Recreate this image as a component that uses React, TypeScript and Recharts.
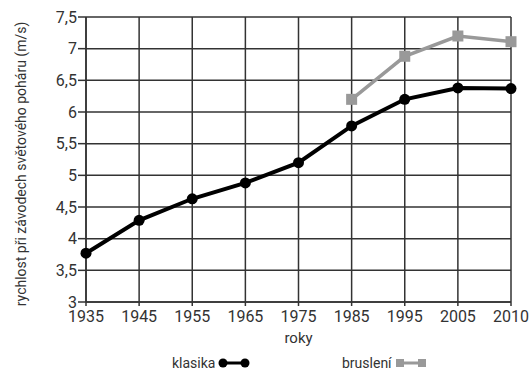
import React from 'react';
import { LineChart, Line, XAxis, YAxis, CartesianGrid, Label } from 'recharts';

const years = ['1935', '1945', '1955', '1965', '1975', '1985', '1995', '2005', '2010'];
const klasika = [3.77, 4.29, 4.63, 4.88, 5.2, 5.78, 6.2, 6.38, 6.37];
const brusleni: (number | null)[] = [null, null, null, null, null, 6.2, 6.88, 7.2, 7.11];
const yTicks = [3, 3.5, 4, 4.5, 5, 5.5, 6, 6.5, 7, 7.5];

const data = years.map((y, i) => ({ year: y, klasika: klasika[i], brusleni: brusleni[i] }));

const FONT = 'Roboto, "Noto Sans", sans-serif';
const TXT = '#333';

const Square = (props: any) => {
  const { cx, cy, value } = props;
  if (cx == null || cy == null || value == null) return null;
  return <rect x={cx - 5.5} y={cy - 5.5} width={11} height={11} fill="#999" />;
};

const YTitle = () => (
  <text
    x={21}
    y={164}
    transform="rotate(-90 21 164)"
    textAnchor="middle"
    dominantBaseline="central"
    fill={TXT}
    fontSize={14}
    fontFamily={FONT}
  >
    rychlost při závodech světového poháru (m/s)
  </text>
);

export default function App() {
  return (
    <div style={{ position: 'absolute', left: 0, top: 0, width: 532, height: 371, background: '#fff' }}>
      <LineChart width={532} height={371} data={data} margin={{ top: 17, right: 21, bottom: 39, left: 26 }}>
        <CartesianGrid stroke="#333" strokeWidth={1.5} />
        <XAxis
          dataKey="year"
          height={30}
          stroke="#333"
          strokeWidth={1.5}
          tickSize={4}
          tickMargin={5}
          interval={0}
          tick={{ fill: TXT, fontSize: 16, fontFamily: FONT }}
        >
          <Label
            value="roky"
            position="bottom"
            offset={0}
            style={{ fill: TXT, fontSize: 15, fontFamily: FONT }}
          />
        </XAxis>
        <YAxis
          type="number"
          domain={[3, 7.5]}
          ticks={yTicks}
          interval={0}
          width={60}
          stroke="#333"
          strokeWidth={1.5}
          tickSize={8}
          tickMargin={1}
          tickFormatter={(v: number) => String(v).replace('.', ',')}
          tick={{ fill: TXT, fontSize: 16, fontFamily: FONT }}
        >
          <Label content={<YTitle />} />
        </YAxis>
        <Line
          dataKey="klasika"
          stroke="#000"
          strokeWidth={4}
          dot={{ r: 5.5, fill: '#000', stroke: '#000', strokeWidth: 0 }}
          isAnimationActive={false}
        />
        <Line
          dataKey="brusleni"
          stroke="#999"
          strokeWidth={3.5}
          dot={<Square />}
          connectNulls={false}
          isAnimationActive={false}
        />
      </LineChart>
      <div
        style={{
          position: 'absolute',
          left: 172,
          top: 354,
          display: 'flex',
          alignItems: 'center',
          fontFamily: FONT,
          fontSize: 14,
          color: TXT,
          lineHeight: '18px',
        }}
      >
        <span>klasika</span>
        <svg width={32} height={14} style={{ marginLeft: 3 }}>
          <line x1={5} y1={7} x2={27} y2={7} stroke="#000" strokeWidth={3} />
          <circle cx={5} cy={7} r={4.5} fill="#000" />
          <circle cx={27} cy={7} r={4.5} fill="#000" />
        </svg>
      </div>
      <div
        style={{
          position: 'absolute',
          left: 342,
          top: 354,
          display: 'flex',
          alignItems: 'center',
          fontFamily: FONT,
          fontSize: 14,
          color: TXT,
          lineHeight: '18px',
        }}
      >
        <span>bruslení</span>
        <svg width={32} height={14} style={{ marginLeft: 3 }}>
          <line x1={5} y1={7} x2={27} y2={7} stroke="#999" strokeWidth={3} />
          <rect x={1} y={3} width={8} height={8} fill="#999" />
          <rect x={23} y={3} width={8} height={8} fill="#999" />
        </svg>
      </div>
    </div>
  );
}
